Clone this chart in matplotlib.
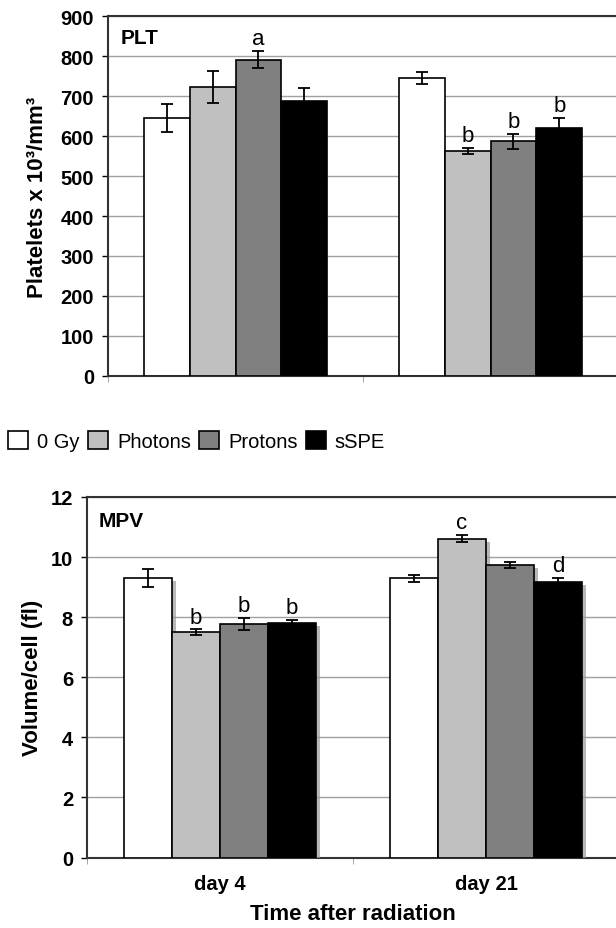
import matplotlib
matplotlib.use("Agg")
import matplotlib.pyplot as plt
import matplotlib.patheffects as pe
import numpy as np

plt.rcParams['font.family'] = ['Liberation Sans', 'DejaVu Sans']

days = ["day 4", "day 21"]
groups = ["0 Gy", "Photons", "Protons", "sSPE"]
colors = ["#ffffff", "#c0c0c0", "#808080", "#000000"]

# platelet counts (x 10^3/mm^3), rows = groups, columns = days
plt_mean = [[644, 745], [723, 562], [791, 587], [687, 619]]
plt_err = [[35, 15], [40, 8], [22, 19], [33, 26]]
plt_letters = [["", ""], ["", "b"], ["a", "b"], ["", "b"]]

# mean platelet volume (fl)
mpv_mean = [[9.30, 9.30], [7.49, 10.61], [7.78, 9.73], [7.80, 9.17]]
mpv_err = [[0.30, 0.12], [0.10, 0.12], [0.20, 0.10], [0.10, 0.13]]
mpv_letters = [["", ""], ["b", "c"], ["b", ""], ["b", "d"]]

W, H = 616, 929
fig = plt.figure(figsize=(W / 100, H / 100), dpi=100)

ax1 = fig.add_axes([108 / W, 1 - 377 / H, 510 / W, 360 / H])
ax2 = fig.add_axes([87 / W, 1 - 858.5 / H, 532 / W, 360.5 / H])

bw = 0.18
x = np.arange(len(days))


def draw(ax, means, errs, letters, shadow):
    for i, g in enumerate(groups):
        pos = x + (i - 1.5) * bw
        bars = ax.bar(pos, means[i], bw, color=colors[i], edgecolor="black",
                      linewidth=1.2, label=g, zorder=3)
        if shadow:
            for b in bars:
                b.set_path_effects([pe.SimplePatchShadow(offset=(3, -2), shadow_rgbFace="#9a9a9a", alpha=0.7),
                                    pe.Normal()])
        ax.errorbar(pos, means[i], yerr=errs[i], fmt="none", ecolor="black",
                    elinewidth=1.3, capsize=4, capthick=1.3, zorder=4)
        for j in range(len(days)):
            if letters[i][j]:
                ax.annotate(letters[i][j], (pos[j], means[i][j] + errs[i][j]),
                            xytext=(0, 5), textcoords="offset points",
                            ha="center", va="baseline", fontsize=16, zorder=5)
    ax.set_xlim(-0.5, 1.5)
    ax.set_xticks(x)
    ax.set_xticks([-0.5, 0.5, 1.5], minor=True)
    ax.tick_params(axis="x", which="major", length=0, pad=12)
    ax.tick_params(axis="x", which="minor", length=4, color="#999999", direction="out")
    ax.tick_params(axis="y", length=4, width=1, pad=6, colors="black")
    ax.grid(axis="y", color="#a0a0a0", linewidth=1, zorder=0)
    ax.set_axisbelow(True)
    for s in ["top", "left", "bottom", "right"]:
        ax.spines[s].set_color("#333333")
        ax.spines[s].set_linewidth(1.5)


draw(ax1, plt_mean, plt_err, plt_letters, False)
ax1.set_ylim(0, 900)
ax1.set_yticks(range(0, 901, 100))
ax1.set_yticklabels([str(v) for v in range(0, 901, 100)], fontsize=14.5, fontweight="bold")
ax1.set_xticklabels([])
ax1.set_ylabel("Platelets x 10³/mm³", fontsize=16, fontweight="bold")
ax1.yaxis.set_label_coords(-0.118, 0.5)
ax1.text(0.025, 0.939, "PLT", transform=ax1.transAxes, fontsize=15,
         fontweight="bold", va="center", ha="left")

draw(ax2, mpv_mean, mpv_err, mpv_letters, True)
ax2.set_ylim(0, 12)
ax2.set_yticks(range(0, 13, 2))
ax2.set_yticklabels([str(v) for v in range(0, 13, 2)], fontsize=14.5, fontweight="bold")
ax2.set_xticklabels(days, fontsize=14.5, fontweight="bold")
ax2.set_ylabel("Volume/cell (fl)", fontsize=16, fontweight="bold")
ax2.yaxis.set_label_coords(-0.082, 0.5)
ax2.set_xlabel("Time after radiation", fontsize=16, fontweight="bold", labelpad=7)
ax2.text(0.021, 0.934, "MPV", transform=ax2.transAxes, fontsize=15,
         fontweight="bold", va="center", ha="left")

handles, labels = ax1.get_legend_handles_labels()
fig.legend(handles, labels, loc="center left", bbox_to_anchor=(8 / W, 1 - 442 / H),
           ncol=4, frameon=False, fontsize=14.5, handlelength=1.0, handleheight=1.0,
           handletextpad=0.45, columnspacing=0.4, borderpad=0, borderaxespad=0)

fig.savefig("out.png", dpi=100)
